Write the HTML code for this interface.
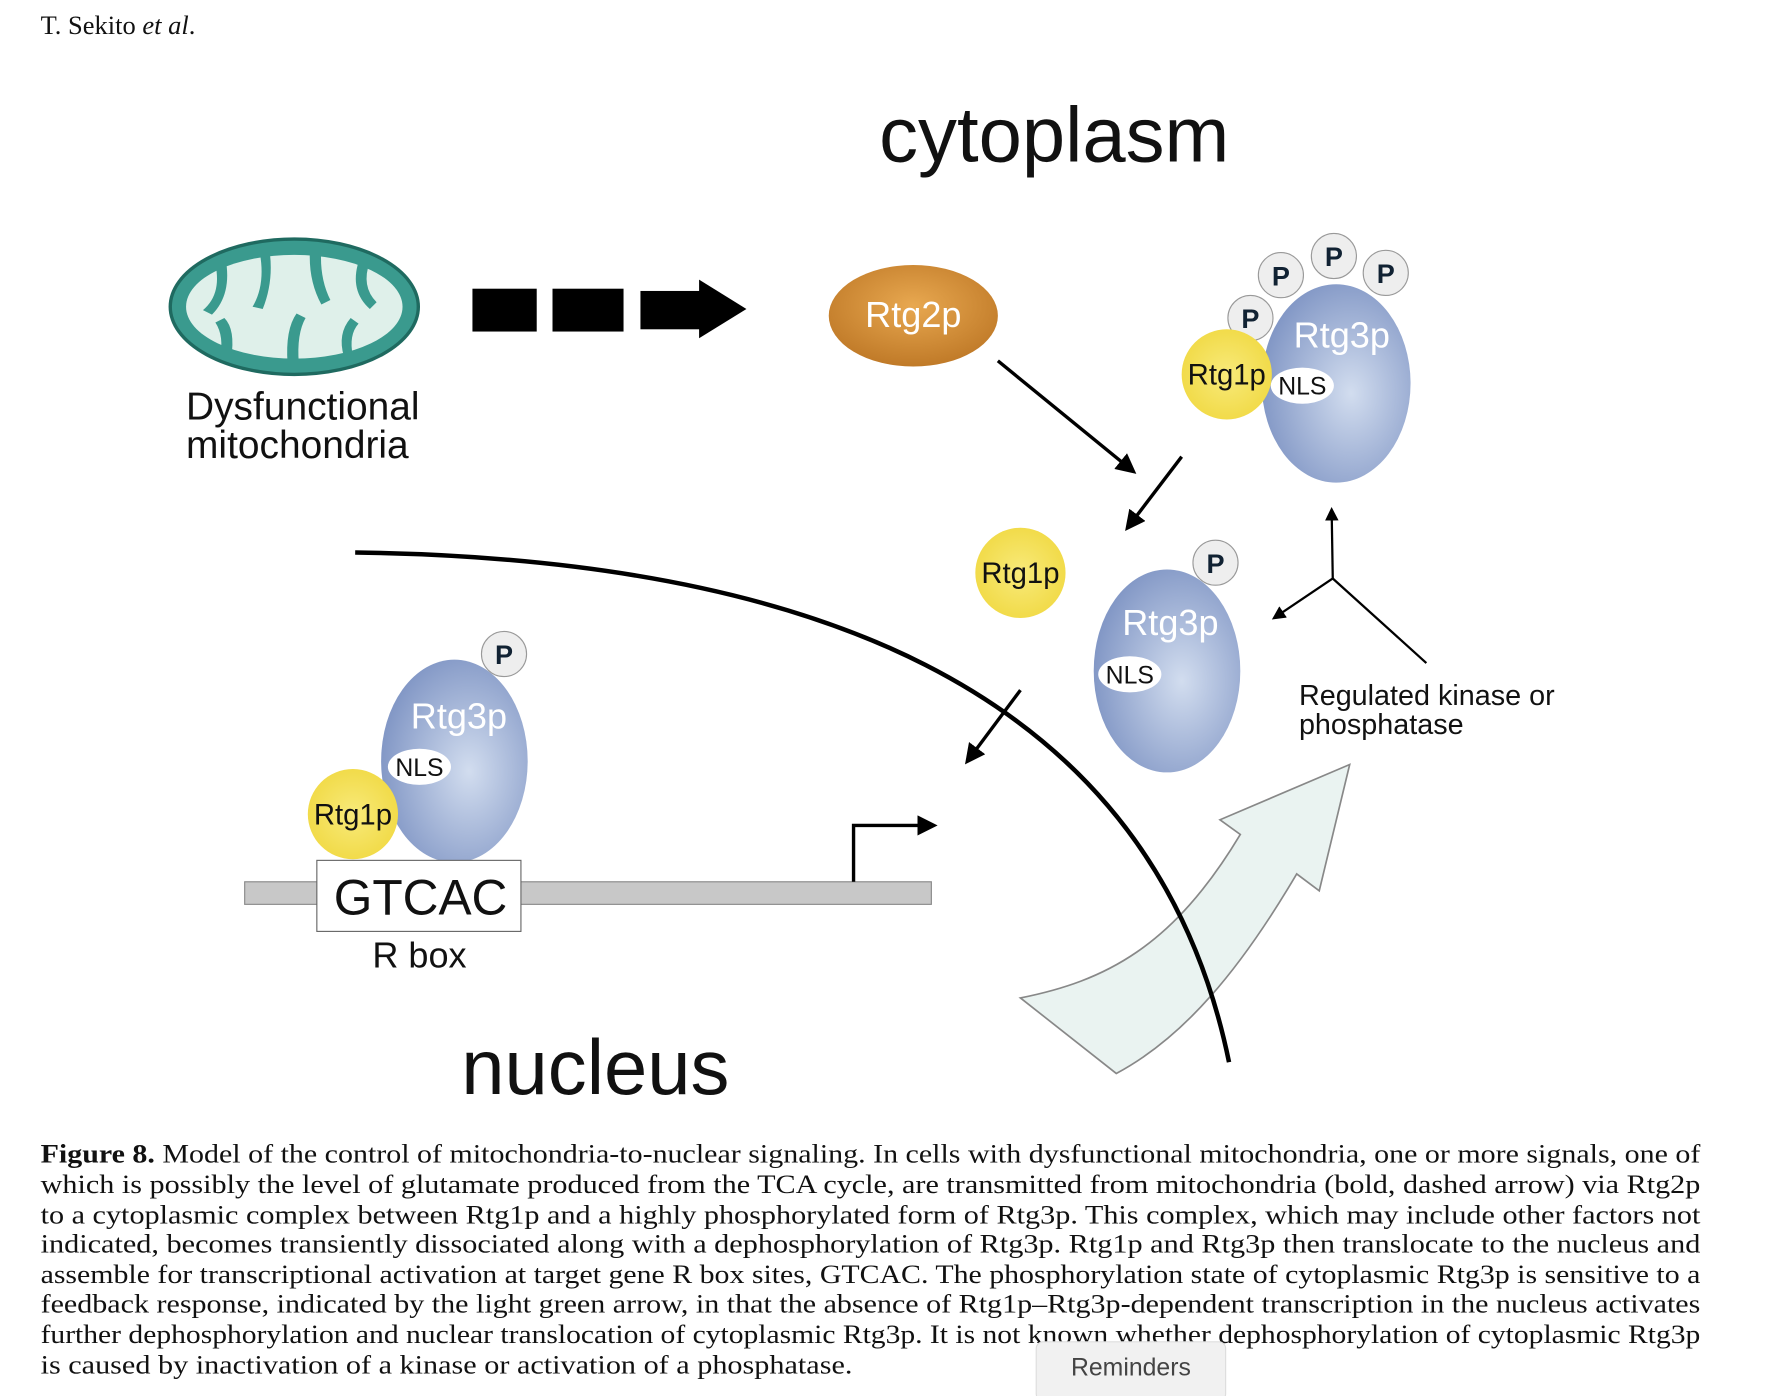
<!DOCTYPE html>
<html><head><meta charset="utf-8"><style>
html,body{margin:0;padding:0;background:#fff;width:1768px;height:1396px;overflow:hidden}
svg{display:block}
.cap{font-family:"Liberation Serif",serif;font-size:23.5px;fill:#111}
.sans{font-family:"Liberation Sans",sans-serif}
</style></head><body>
<svg width="1768" height="1396" viewBox="0 0 1568 1238" xmlns="http://www.w3.org/2000/svg">
<defs>
<radialGradient id="blue" cx="0.6" cy="0.55" r="0.6"><stop offset="0" stop-color="#d2ddef"/><stop offset="1" stop-color="#8398c6"/></radialGradient>
<radialGradient id="yel" cx="0.5" cy="0.5" r="0.6"><stop offset="0" stop-color="#f8ea7a"/><stop offset="1" stop-color="#f0d840"/></radialGradient>
<radialGradient id="org" cx="0.5" cy="0.4" r="0.6"><stop offset="0" stop-color="#e8a850"/><stop offset="1" stop-color="#c07a28"/></radialGradient>
<marker id="ah" viewBox="0 0 10 10" refX="8" refY="5" markerWidth="6" markerHeight="6" orient="auto"><path d="M0,0 L10,5 L0,10 Z" fill="#000"/></marker>
</defs>
<text x="36" y="30" class="cap" font-size="22">T. Sekito <tspan font-style="italic">et al</tspan>.</text>
<text x="935" y="143" text-anchor="middle" class="sans" font-size="69" fill="#111">cytoplasm</text>
<g>
<ellipse cx="261" cy="272" rx="110" ry="60" fill="#3a9a8e" stroke="#1f6a60" stroke-width="3"/>
<ellipse cx="261" cy="272" rx="96" ry="46" fill="#dff0ea"/>
<g fill="#3a9a8e">
<path d="M190,230 q8,30 -10,45 l8,4 q18,-18 12,-50z"/><path d="M230,222 q6,30 -6,50 l9,2 q10,-25 6,-52z"/>
<path d="M275,220 q-2,28 10,50 l8,-4 q-10,-20 -8,-46z"/><path d="M318,232 q-8,26 10,42 l6,-6 q-14,-14 -6,-36z"/>
<path d="M205,318 q4,-26 -6,-36 l-8,4 q8,12 4,32z"/><path d="M255,322 q-2,-30 8,-44 l8,4 q-8,14 -6,40z"/><path d="M305,316 q-6,-20 6,-34 l7,5 q-9,10 -5,29z"/>
</g></g>
<text x="165" y="372" class="sans" font-size="34.5" fill="#111">Dysfunctional</text>
<text x="165" y="406" class="sans" font-size="34.5" fill="#111">mitochondria</text>
<g fill="#000">
<rect x="419" y="256" width="57" height="38"/><rect x="490" y="256" width="63" height="38"/>
<rect x="568" y="258" width="54" height="34"/><path d="M620,248 L662,274 L620,300 Z"/></g>
<ellipse cx="810" cy="280" rx="75" ry="45" fill="url(#org)"/>
<text x="810" y="290" text-anchor="middle" class="sans" font-size="32" fill="#fff">Rtg2p</text>
<line x1="885" y1="320" x2="1005" y2="418" stroke="#000" stroke-width="3" marker-end="url(#ah)"/>
<line x1="1048" y1="405" x2="1000" y2="468" stroke="#000" stroke-width="3" marker-end="url(#ah)"/>
<g>
<ellipse cx="1185" cy="340" rx="66" ry="88" fill="url(#blue)"/>
<g fill="#eee" stroke="#999"><circle cx="1136" cy="244" r="20"/><circle cx="1183" cy="227" r="20"/><circle cx="1229" cy="242" r="20"/><circle cx="1109" cy="282" r="20"/></g>
<g class="sans" font-size="24" font-weight="bold" fill="#123" text-anchor="middle"><text x="1136" y="253">P</text><text x="1183" y="236">P</text><text x="1229" y="251">P</text><text x="1109" y="291">P</text></g>
<circle cx="1088" cy="332" r="40" fill="url(#yel)"/>
<ellipse cx="1155" cy="342" rx="28" ry="16" fill="#fff"/>
<text x="1088" y="341" text-anchor="middle" class="sans" font-size="26" fill="#111">Rtg1p</text>
<text x="1155" y="350" text-anchor="middle" class="sans" font-size="22" fill="#111">NLS</text>
<text x="1190" y="308" text-anchor="middle" class="sans" font-size="32" fill="#fff">Rtg3p</text></g>
<g>
<circle cx="905" cy="508" r="40" fill="url(#yel)"/><text x="905" y="517" text-anchor="middle" class="sans" font-size="26" fill="#111">Rtg1p</text>
<ellipse cx="1035" cy="595" rx="65" ry="90" fill="url(#blue)"/>
<circle cx="1078" cy="499" r="20" fill="#eee" stroke="#999"/><text x="1078" y="508" text-anchor="middle" class="sans" font-size="24" font-weight="bold" fill="#123">P</text>
<ellipse cx="1002" cy="598" rx="28" ry="16" fill="#fff"/><text x="1002" y="606" text-anchor="middle" class="sans" font-size="22" fill="#111">NLS</text>
<text x="1038" y="563" text-anchor="middle" class="sans" font-size="32" fill="#fff">Rtg3p</text></g>
<g stroke="#000" stroke-width="2">
<line x1="1182" y1="513" x2="1181" y2="452" marker-end="url(#ah)"/><line x1="1182" y1="513" x2="1130" y2="548" marker-end="url(#ah)"/><line x1="1182" y1="513" x2="1265" y2="588"/></g>
<text x="1152" y="625" class="sans" font-size="25.5" fill="#111">Regulated kinase or</text>
<text x="1152" y="651" class="sans" font-size="25.5" fill="#111">phosphatase</text>
<path d="M905,885 C980,870 1040,840 1100,740 L1082,727 L1197,678 L1170,790 L1150,775 C1100,860 1050,920 990,952 Z" fill="#e6f1ee" fill-opacity="0.85" stroke="#888" stroke-width="1.5"/>
<path d="M315,490 C700,495 1020,600 1090,942" fill="none" stroke="#000" stroke-width="4"/>
<line x1="905" y1="612" x2="858" y2="675" stroke="#000" stroke-width="3" marker-end="url(#ah)"/>
<rect x="217" y="782" width="609" height="20" fill="#c8c8c8" stroke="#888"/>
<path d="M757,782 V732 H828" fill="none" stroke="#000" stroke-width="3" marker-end="url(#ah)"/>
<g>
<ellipse cx="403" cy="675" rx="65" ry="90" fill="url(#blue)"/>
<circle cx="447" cy="580" r="20" fill="#eee" stroke="#999"/><text x="447" y="589" text-anchor="middle" class="sans" font-size="24" font-weight="bold" fill="#123">P</text>
<ellipse cx="372" cy="680" rx="28" ry="16" fill="#fff"/><text x="372" y="688" text-anchor="middle" class="sans" font-size="22" fill="#111">NLS</text>
<text x="407" y="646" text-anchor="middle" class="sans" font-size="32" fill="#fff">Rtg3p</text>
<circle cx="313" cy="722" r="40" fill="url(#yel)"/><text x="313" y="731" text-anchor="middle" class="sans" font-size="26" fill="#111">Rtg1p</text></g>
<rect x="281" y="763" width="181" height="63" fill="#fff" stroke="#666"/>
<text x="373" y="811" text-anchor="middle" class="sans" font-size="44" fill="#111">GTCAC</text>
<text x="372" y="858" text-anchor="middle" class="sans" font-size="32" fill="#111">R box</text>
<text x="528" y="970" text-anchor="middle" class="sans" font-size="69" fill="#111">nucleus</text>
<g class="cap">
<text x="36" y="1031" textLength="1472" lengthAdjust="spacingAndGlyphs"><tspan font-weight="bold">Figure 8.</tspan>   Model of the control of mitochondria-to-nuclear signaling. In cells with dysfunctional mitochondria, one or more signals, one of</text>
<text x="36" y="1058" textLength="1472" lengthAdjust="spacingAndGlyphs">which is possibly the level of glutamate produced from the TCA cycle, are transmitted from mitochondria (bold, dashed arrow) via Rtg2p</text>
<text x="36" y="1085" textLength="1472" lengthAdjust="spacingAndGlyphs">to a cytoplasmic complex between Rtg1p and a highly phosphorylated form of Rtg3p. This complex, which may include other factors not</text>
<text x="36" y="1111" textLength="1472" lengthAdjust="spacingAndGlyphs">indicated, becomes transiently dissociated along with a dephosphorylation of Rtg3p. Rtg1p and Rtg3p then translocate to the nucleus and</text>
<text x="36" y="1138" textLength="1472" lengthAdjust="spacingAndGlyphs">assemble for transcriptional activation at target gene R box sites, GTCAC. The phosphorylation state of cytoplasmic Rtg3p is sensitive to a</text>
<text x="36" y="1164" textLength="1472" lengthAdjust="spacingAndGlyphs">feedback response, indicated by the light green arrow, in that the absence of Rtg1p–Rtg3p-dependent transcription in the nucleus activates</text>
<text x="36" y="1191" textLength="1472" lengthAdjust="spacingAndGlyphs">further dephosphorylation and nuclear translocation of cytoplasmic Rtg3p. It is not known whether dephosphorylation of cytoplasmic Rtg3p</text>
<text x="36" y="1218" textLength="720" lengthAdjust="spacingAndGlyphs">is caused by inactivation of a kinase or activation of a phosphatase.</text>
</g>
<g>
<rect x="919" y="1190" width="168" height="52" rx="6" fill="#f1f1f1" stroke="#ddd"/>
<text x="1003" y="1220" text-anchor="middle" class="sans" font-size="22" fill="#444">Reminders</text></g>
</svg>
</body></html>
